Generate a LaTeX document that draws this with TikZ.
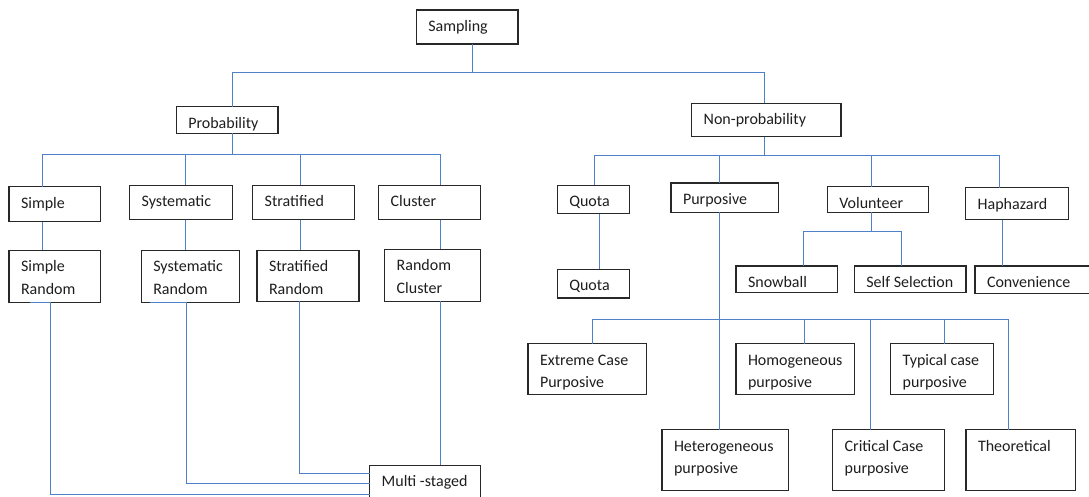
\documentclass[tikz,border=0pt]{standalone}
\usepackage{fontspec}
\setmainfont{Carlito}
\definecolor{linkblue}{RGB}{79,129,200}
\definecolor{boxline}{RGB}{40,40,40}
\definecolor{ink}{RGB}{30,30,30}
\tikzset{
  box/.style={draw=boxline, line width=1.2pt, inner sep=0pt, outer sep=0pt, anchor=north west},
  lbl/.style={anchor=base west, inner sep=0pt, text=ink, font=\fontsize{16}{19}\selectfont},
  conn/.style={draw=linkblue, line width=1pt}
}
% one-line box: name, x1, y1, x2, y2, text
\newcommand\onebox[6]{%
  \node[box, minimum width={(#4-#2)*1pt}, minimum height={(#5-#3)*1pt}] (#1) at (#2,#3) {};
  \node[lbl] (#1-a) at ([xshift=11.8pt,yshift=-21.5pt]#1.north west) {#6};
}
% two-line box: name, x1, y1, x2, y2, first line, second line
\newcommand\twobox[7]{%
  \node[box, minimum width={(#4-#2)*1pt}, minimum height={(#5-#3)*1pt}] (#1) at (#2,#3) {};
  \node[lbl] (#1-a) at ([xshift=11.8pt,yshift=-21.5pt]#1.north west) {#6};
  \node[lbl] (#1-b) at ([xshift=11.8pt,yshift=-43.8pt]#1.north west) {#7};
}
\begin{document}
\begin{tikzpicture}[x=1pt,y=-1pt]
\fill[white] (0,0) rectangle (1089,497);
\useasboundingbox (0,0) rectangle (1089,497);
\clip (0,0) rectangle (1089,497);

% root and the two branches
\onebox{samp}{416.3}{10}{518}{44}{Sampling}
\onebox{prob}{176.3}{106.7}{278}{133.3}{Probability}
\onebox{nonp}{691.7}{103.3}{841}{136.7}{Non-probability}

% probability methods
\onebox{simple}{9}{186.7}{100.7}{221.7}{Simple}
\onebox{syst}{129.7}{185.3}{232.3}{219.7}{Systematic}
\onebox{strat}{252.7}{185.3}{354.3}{219.7}{Stratified}
\onebox{clus}{378.7}{185.3}{480.3}{219.7}{Cluster}
\twobox{srand}{9}{250.3}{100.7}{302.7}{Simple}{Random}
\twobox{sysr}{141.3}{250.3}{239.3}{302.7}{Systematic}{Random}
\twobox{strr}{257}{250.3}{359}{301.3}{Stratified}{Random}
\twobox{rclus}{384.7}{249.3}{480.3}{301.3}{Random}{Cluster}
\onebox{multi}{369.7}{465.3}{480.3}{505}{Multi -staged}

% non-probability methods
\onebox{quota}{557.3}{185.3}{629.3}{213.7}{Quota}
\onebox{purp}{671}{183}{778.3}{212.3}{Purposive}
\onebox{vol}{827.3}{186.7}{928.3}{212.3}{Volunteer}
\onebox{hap}{965.7}{187.7}{1068.3}{219.7}{Haphazard}
\onebox{quota2}{557.3}{269.3}{629.3}{298}{Quota}
\onebox{snow}{736}{266}{837.7}{292.7}{Snowball}
\onebox{self}{854.3}{266}{966}{292.7}{Self Selection}
\onebox{conv}{975}{266}{1095}{293.7}{Convenience}
\twobox{ext}{528}{343.7}{646.3}{394.7}{Extreme Case}{Purposive}
\twobox{homo}{736}{343.7}{854.7}{394.7}{Homogeneous}{purposive}
\twobox{typ}{890.7}{343.7}{993.3}{394.7}{Typical case}{purposive}
\twobox{het}{662}{429.7}{788.7}{490.3}{Heterogeneous}{purposive}
\twobox{crit}{832.7}{429.7}{944.7}{490.3}{Critical Case}{purposive}
\onebox{theo}{966}{429.7}{1075.3}{490.3}{Theoretical}

% junctions of the tree
\coordinate (jS) at (472.3,72.5);
\coordinate (jP) at (232.3,154.3);
\coordinate (jN) at (764.7,155.7);
\coordinate (jU) at (719,319.7);
\coordinate (jV) at (871.7,231.7);

% root connectors
\draw[conn] (samp.south -| jS) -- (jS);
\draw[conn] (prob.north -| jP) |- (jS) -| (nonp.north -| jN);

% probability branch
\draw[conn] (prob.south -| jP) -- (jP);
\draw[conn] (simple.north -| 42.3,0) |- (jP) -| (clus.north -| 440.7,0);
\draw[conn] (syst.north -| 185.7,0) -- (jP -| 185.7,0);
\draw[conn] (strat.north -| 300.7,0) -- (jP -| 300.7,0);
\draw[conn] (simple.south -| 42.3,0) -- (srand.north -| 42.3,0);
\draw[conn] (syst.south -| 185.7,0) -- (sysr.north -| 185.7,0);
\draw[conn] (strat.south -| 300.7,0) -- (strr.north -| 300.7,0);
\draw[conn] (clus.south -| 440.7,0) -- (rclus.north -| 440.7,0);
\draw[conn] (srand.south -| 30,0) -- (srand.south -| 50.3,0) |- (multi.west |- 0,494.7);
\draw[conn] (sysr.south -| 150,0) -- (sysr.south -| 186.7,0) |- (multi.west |- 0,483.3);
\draw[conn] (strr.south -| 299.3,0) |- (multi.west |- 0,473);
\draw[conn] (rclus.south -| 440.7,0) -- (multi.north -| 440.7,0);

% non-probability branch
\draw[conn] (nonp.south -| jN) -- (jN);
\draw[conn] (quota.north -| 594,0) |- (jN) -| (hap.north -| 999.3,0);
\draw[conn] (purp.north -| jU) -- (jN -| jU);
\draw[conn] (vol.north -| jV) -- (jN -| jV);
\draw[conn] (quota.south -| 599.7,0) -- (quota2.north -| 599.7,0);
\draw[conn] (hap.south -| 1002,0) -- (conv.north -| 1002,0);

% volunteer children
\draw[conn] (vol.south -| jV) -- (jV);
\draw[conn] (snow.north -| 803.3,0) |- (jV) -| (self.north -| 901,0);

% purposive children
\draw[conn] (purp.south -| jU) -- (het.north -| jU);
\draw[conn] (ext.north -| 592.3,0) |- (jU) -| (theo.north -| 1008.7,0);
\draw[conn] (homo.north -| 804.7,0) -- (jU -| 804.7,0);
\draw[conn] (typ.north -| 944.3,0) -- (jU -| 944.3,0);
\draw[conn] (crit.north -| 870.3,0) -- (jU -| 870.3,0);
\end{tikzpicture}
\end{document}
